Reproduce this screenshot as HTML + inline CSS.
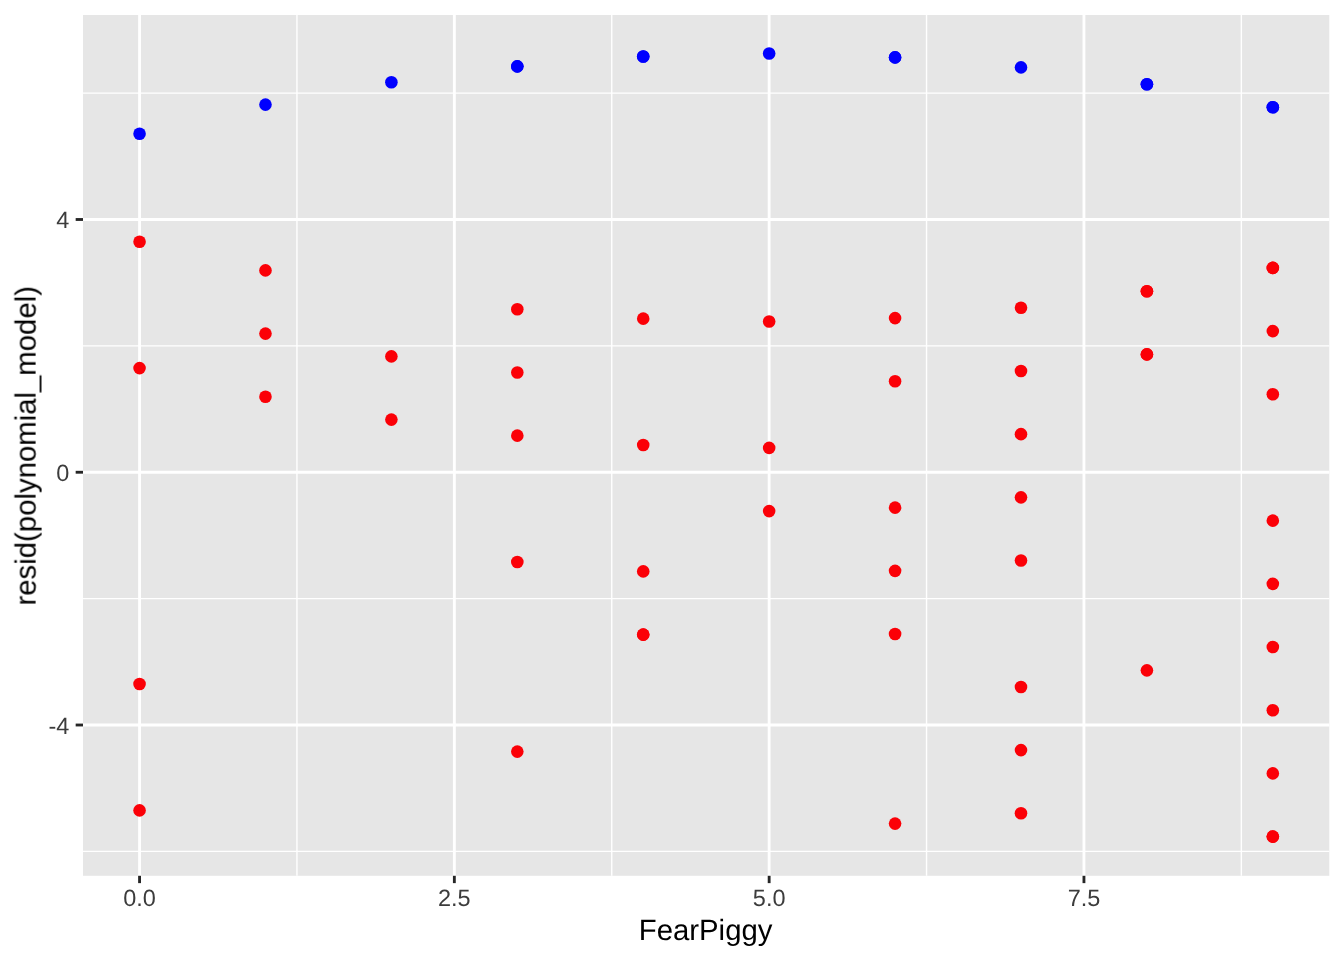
<!DOCTYPE html>
<html><head><meta charset="utf-8"><title>Residual plot</title>
<style>
html,body{margin:0;padding:0;background:#fff;width:1344px;height:960px;overflow:hidden}
svg{display:block;font-family:"Liberation Sans",sans-serif}
text{will-change:transform;text-rendering:geometricPrecision}
</style></head>
<body>
<svg width="1344" height="960" viewBox="0 0 1344 960">
<rect width="1344" height="960" fill="#fff"/>
<rect x="83.0" y="15.0" width="1246.30" height="860.80" fill="#E6E6E6"/>
<line x1="83.0" x2="1329.3" y1="93.11" y2="93.11" stroke="#fff" stroke-width="1.42"/>
<line x1="83.0" x2="1329.3" y1="345.87" y2="345.87" stroke="#fff" stroke-width="1.42"/>
<line x1="83.0" x2="1329.3" y1="598.63" y2="598.63" stroke="#fff" stroke-width="1.42"/>
<line x1="83.0" x2="1329.3" y1="851.39" y2="851.39" stroke="#fff" stroke-width="1.42"/>
<line y1="15.0" y2="875.8" x1="296.95" x2="296.95" stroke="#fff" stroke-width="1.42"/>
<line y1="15.0" y2="875.8" x1="611.75" x2="611.75" stroke="#fff" stroke-width="1.42"/>
<line y1="15.0" y2="875.8" x1="926.55" x2="926.55" stroke="#fff" stroke-width="1.42"/>
<line y1="15.0" y2="875.8" x1="1241.35" x2="1241.35" stroke="#fff" stroke-width="1.42"/>
<line x1="83.0" x2="1329.3" y1="219.49" y2="219.49" stroke="#fff" stroke-width="2.85"/>
<line x1="83.0" x2="1329.3" y1="472.25" y2="472.25" stroke="#fff" stroke-width="2.85"/>
<line x1="83.0" x2="1329.3" y1="725.01" y2="725.01" stroke="#fff" stroke-width="2.85"/>
<line y1="15.0" y2="875.8" x1="139.55" x2="139.55" stroke="#fff" stroke-width="2.85"/>
<line y1="15.0" y2="875.8" x1="454.35" x2="454.35" stroke="#fff" stroke-width="2.85"/>
<line y1="15.0" y2="875.8" x1="769.15" x2="769.15" stroke="#fff" stroke-width="2.85"/>
<line y1="15.0" y2="875.8" x1="1083.95" x2="1083.95" stroke="#fff" stroke-width="2.85"/>
<circle cx="139.55" cy="241.70" r="6.3" fill="#FB0007"/>
<circle cx="139.55" cy="368.08" r="6.3" fill="#FB0007"/>
<circle cx="139.55" cy="684.03" r="6.3" fill="#FB0007"/>
<circle cx="139.55" cy="810.41" r="6.3" fill="#FB0007"/>
<circle cx="265.47" cy="270.40" r="6.3" fill="#FB0007"/>
<circle cx="265.47" cy="333.59" r="6.3" fill="#FB0007"/>
<circle cx="265.47" cy="396.78" r="6.3" fill="#FB0007"/>
<circle cx="391.39" cy="356.41" r="6.3" fill="#FB0007"/>
<circle cx="391.39" cy="419.60" r="6.3" fill="#FB0007"/>
<circle cx="517.31" cy="309.27" r="6.3" fill="#FB0007"/>
<circle cx="517.31" cy="372.46" r="6.3" fill="#FB0007"/>
<circle cx="517.31" cy="435.65" r="6.3" fill="#FB0007"/>
<circle cx="517.31" cy="562.03" r="6.3" fill="#FB0007"/>
<circle cx="517.31" cy="751.60" r="6.3" fill="#FB0007"/>
<circle cx="643.23" cy="318.63" r="6.3" fill="#FB0007"/>
<circle cx="643.23" cy="445.01" r="6.3" fill="#FB0007"/>
<circle cx="643.23" cy="571.39" r="6.3" fill="#FB0007"/>
<circle cx="643.23" cy="634.58" r="6.3" fill="#FB0007"/>
<circle cx="769.15" cy="321.52" r="6.3" fill="#FB0007"/>
<circle cx="769.15" cy="447.90" r="6.3" fill="#FB0007"/>
<circle cx="769.15" cy="511.09" r="6.3" fill="#FB0007"/>
<circle cx="895.07" cy="318.10" r="6.3" fill="#FB0007"/>
<circle cx="895.07" cy="381.29" r="6.3" fill="#FB0007"/>
<circle cx="895.07" cy="507.67" r="6.3" fill="#FB0007"/>
<circle cx="895.07" cy="570.86" r="6.3" fill="#FB0007"/>
<circle cx="895.07" cy="634.05" r="6.3" fill="#FB0007"/>
<circle cx="895.07" cy="823.62" r="6.3" fill="#FB0007"/>
<circle cx="1020.99" cy="307.79" r="6.3" fill="#FB0007"/>
<circle cx="1020.99" cy="370.98" r="6.3" fill="#FB0007"/>
<circle cx="1020.99" cy="434.17" r="6.3" fill="#FB0007"/>
<circle cx="1020.99" cy="497.36" r="6.3" fill="#FB0007"/>
<circle cx="1020.99" cy="560.55" r="6.3" fill="#FB0007"/>
<circle cx="1020.99" cy="686.93" r="6.3" fill="#FB0007"/>
<circle cx="1020.99" cy="750.12" r="6.3" fill="#FB0007"/>
<circle cx="1020.99" cy="813.31" r="6.3" fill="#FB0007"/>
<circle cx="1146.91" cy="291.21" r="6.3" fill="#FB0007"/>
<circle cx="1146.91" cy="354.40" r="6.3" fill="#FB0007"/>
<circle cx="1146.91" cy="670.35" r="6.3" fill="#FB0007"/>
<circle cx="1272.83" cy="267.90" r="6.3" fill="#FB0007"/>
<circle cx="1272.83" cy="331.09" r="6.3" fill="#FB0007"/>
<circle cx="1272.83" cy="394.28" r="6.3" fill="#FB0007"/>
<circle cx="1272.83" cy="520.66" r="6.3" fill="#FB0007"/>
<circle cx="1272.83" cy="583.85" r="6.3" fill="#FB0007"/>
<circle cx="1272.83" cy="647.04" r="6.3" fill="#FB0007"/>
<circle cx="1272.83" cy="710.23" r="6.3" fill="#FB0007"/>
<circle cx="1272.83" cy="773.42" r="6.3" fill="#FB0007"/>
<circle cx="1272.83" cy="836.61" r="6.3" fill="#FB0007"/>
<circle cx="643.23" cy="634.58" r="6.3" fill="#FB0007"/>
<circle cx="1146.91" cy="291.21" r="6.3" fill="#FB0007"/>
<circle cx="1146.91" cy="354.40" r="6.3" fill="#FB0007"/>
<circle cx="1272.83" cy="267.90" r="6.3" fill="#FB0007"/>
<circle cx="1272.83" cy="836.61" r="6.3" fill="#FB0007"/>
<circle cx="139.55" cy="133.75" r="6.3" fill="#0000FF"/>
<circle cx="265.47" cy="104.60" r="6.3" fill="#0000FF"/>
<circle cx="391.39" cy="82.19" r="6.3" fill="#0000FF"/>
<circle cx="517.31" cy="66.35" r="6.3" fill="#0000FF"/>
<circle cx="517.31" cy="66.35" r="6.3" fill="#0000FF"/>
<circle cx="643.23" cy="56.52" r="6.3" fill="#0000FF"/>
<circle cx="643.23" cy="56.52" r="6.3" fill="#0000FF"/>
<circle cx="769.15" cy="53.52" r="6.3" fill="#0000FF"/>
<circle cx="895.07" cy="57.42" r="6.3" fill="#0000FF"/>
<circle cx="895.07" cy="57.42" r="6.3" fill="#0000FF"/>
<circle cx="1020.99" cy="67.42" r="6.3" fill="#0000FF"/>
<circle cx="1146.91" cy="84.21" r="6.3" fill="#0000FF"/>
<circle cx="1146.91" cy="84.21" r="6.3" fill="#0000FF"/>
<circle cx="1272.83" cy="107.21" r="6.3" fill="#0000FF"/>
<circle cx="1272.83" cy="107.21" r="6.3" fill="#0000FF"/>
<line x1="75.67" x2="83.0" y1="219.49" y2="219.49" stroke="#262626" stroke-width="2.85"/>
<line x1="75.67" x2="83.0" y1="472.25" y2="472.25" stroke="#262626" stroke-width="2.85"/>
<line x1="75.67" x2="83.0" y1="725.01" y2="725.01" stroke="#262626" stroke-width="2.85"/>
<line y1="875.8" y2="883.13" x1="139.55" x2="139.55" stroke="#262626" stroke-width="2.85"/>
<line y1="875.8" y2="883.13" x1="454.35" x2="454.35" stroke="#262626" stroke-width="2.85"/>
<line y1="875.8" y2="883.13" x1="769.15" x2="769.15" stroke="#262626" stroke-width="2.85"/>
<line y1="875.8" y2="883.13" x1="1083.95" x2="1083.95" stroke="#262626" stroke-width="2.85"/>
<text x="69.3" y="228.09" text-anchor="end" font-size="23.47" fill="#3C3C3C">4</text>
<text x="69.3" y="480.85" text-anchor="end" font-size="23.47" fill="#3C3C3C">0</text>
<text x="69.3" y="733.61" text-anchor="end" font-size="23.47" fill="#3C3C3C">-4</text>
<text x="139.55" y="905.6" text-anchor="middle" font-size="23.47" fill="#3C3C3C">0.0</text>
<text x="454.35" y="905.6" text-anchor="middle" font-size="23.47" fill="#3C3C3C">2.5</text>
<text x="769.15" y="905.6" text-anchor="middle" font-size="23.47" fill="#3C3C3C">5.0</text>
<text x="1083.95" y="905.6" text-anchor="middle" font-size="23.47" fill="#3C3C3C">7.5</text>
<text x="705.6" y="940.0" text-anchor="middle" font-size="29.33" fill="#000">FearPiggy</text>
<text transform="translate(35.6 445.75) rotate(-90)" x="0" y="0" text-anchor="middle" font-size="29.33" fill="#000">resid(polynomial_model)</text>
</svg>
</body></html>
